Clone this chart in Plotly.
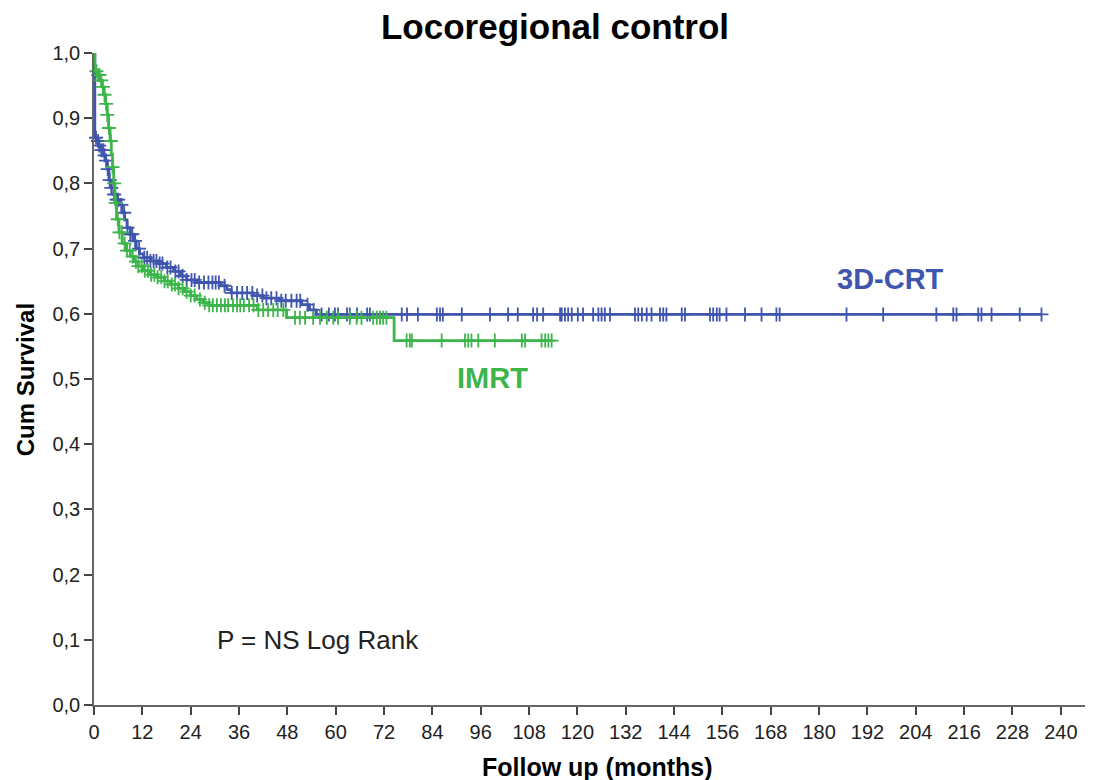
import numpy as np
import plotly.graph_objects as go

# ---------------- data ----------------
# 3D-CRT Kaplan-Meier step vertices (months, cumulative survival)
crt_time = [0, 0.2, 0.6, 1.2, 1.8, 2.4, 2.9, 3.3, 3.7, 4.3, 4.9, 5.6, 6.4, 7.0, 7.6, 8.2,
            9.0, 9.8, 10.5, 11.3, 12.3, 14.0, 16.0, 18.0, 19.8, 21.5, 23.0, 25.5, 31.5,
            33.0, 34.0, 39.5, 42.0, 46.0, 51.5, 53.5, 55.2, 235.2]
crt_surv = [1.0, 0.870, 0.865, 0.858, 0.851, 0.843, 0.835, 0.822, 0.805, 0.793, 0.783,
            0.775, 0.767, 0.755, 0.744, 0.732, 0.722, 0.712, 0.700, 0.692, 0.686, 0.681,
            0.677, 0.671, 0.665, 0.658, 0.652, 0.648, 0.643, 0.637, 0.632, 0.628, 0.624,
            0.620, 0.614, 0.606, 0.599, 0.599]
crt_censored = [0.5, 1.0, 1.3, 1.8, 2.3, 2.6, 3.0, 3.4, 3.9, 4.3, 5.0, 5.6, 6.0, 6.8, 7.5,
                8.3, 9.0, 9.5, 10.2, 11.2, 12.5, 13.2, 14.0, 14.8, 15.5, 16.3, 17.0, 18.2,
                19.0, 20.2, 21.0, 22.0, 23.0, 24.2, 25.0, 26.1, 27.3, 28.4, 29.4, 30.2,
                31.0, 32.4, 34.2, 35.5, 36.8, 38.0, 39.3, 40.5, 41.8, 42.8, 44.0, 45.3,
                46.5, 47.6, 49.0, 50.3, 51.2, 53.0, 54.5, 56.5, 58.3,
                59.8, 60.6, 62.8, 63.5, 65.3, 67.8, 68.5, 76.4, 77.7, 80.4, 85.1, 85.9,
                86.6, 91.3, 98.3, 102.8, 105.2, 109.0, 110.0, 111.5, 115.7, 116.1, 116.9,
                117.7, 118.6, 120.1, 121.4, 123.9, 125.2, 126.0, 126.8, 128.1, 134.3,
                135.1, 136.0, 137.2, 138.4, 140.5, 141.3, 142.1, 145.9, 146.7, 152.9,
                153.7, 154.6, 155.3, 157.0, 161.6, 165.7, 169.4, 170.2, 186.8, 195.9,
                209.1, 213.3, 214.1, 219.5, 220.3, 222.8, 229.8, 235.2]

# IMRT Kaplan-Meier step vertices
imrt_time = [0, 0.2, 0.8, 1.5, 2.0, 2.5, 2.9, 3.3, 3.6, 4.0, 4.3, 4.6, 4.9, 5.2, 5.6, 6.2,
             7.0, 8.0, 9.0, 10.0, 11.0, 12.2, 14.0, 15.8, 17.5, 19.0, 21.0, 22.5, 24.0,
             25.5, 27.0, 28.5, 40.5, 47.8, 74.5, 113.6]
imrt_surv = [1.0, 0.972, 0.966, 0.958, 0.948, 0.936, 0.922, 0.905, 0.885, 0.865, 0.845,
             0.825, 0.800, 0.770, 0.745, 0.725, 0.708, 0.697, 0.688, 0.680, 0.673, 0.666,
             0.660, 0.656, 0.650, 0.645, 0.639, 0.634, 0.628, 0.622, 0.617, 0.613, 0.606,
             0.594, 0.559, 0.559]
imrt_censored = [0.6, 1.0, 1.4, 1.8, 2.2, 2.6, 3.0, 3.3, 3.7, 4.2, 4.6, 5.0, 5.4, 5.9, 6.3,
                 6.9, 7.6, 8.2, 8.9, 9.6, 10.4, 11.0, 11.8, 12.6, 13.4, 14.2, 15.0, 15.8,
                 16.7, 17.5, 18.3, 19.3, 20.1, 21.0, 22.0, 23.0, 24.0, 25.0, 26.3, 27.5,
                 28.6, 29.5, 30.5, 31.5, 32.5, 33.3, 34.5, 35.5, 36.3, 37.2, 38.5, 39.6,
                 40.8, 42.0, 43.2, 44.5, 45.6, 47.0, 49.9, 51.1, 52.4, 54.4, 56.1, 57.8,
                 59.4, 60.6, 63.5, 65.2, 66.4, 69.3, 70.2, 71.0, 71.8, 72.6, 77.6, 78.4,
                 78.9, 86.3, 92.1, 92.9, 93.7, 95.4, 99.5, 106.2, 107.0, 111.1, 112.0,
                 112.8, 113.6]

x_ticks = list(range(0, 241, 12))
y_ticks = [0.0, 0.1, 0.2, 0.3, 0.4, 0.5, 0.6, 0.7, 0.8, 0.9, 1.0]
y_tick_labels = ["0,0", "0,1", "0,2", "0,3", "0,4", "0,5", "0,6", "0,7", "0,8", "0,9", "1,0"]

BLUE = "#3F55AE"
GREEN = "#3DB54A"
FONT = "Liberation Sans, Arial, sans-serif"


def km_value(times, survs, t):
    t_arr = np.asarray(times)
    s_arr = np.asarray(survs)
    idx = np.searchsorted(t_arr, np.asarray(t), side="right") - 1
    return s_arr[np.clip(idx, 0, len(s_arr) - 1)]


fig = go.Figure()

for name, tt, ss, cens, col in [
    ("3D-CRT", crt_time, crt_surv, crt_censored, BLUE),
    ("IMRT", imrt_time, imrt_surv, imrt_censored, GREEN),
]:
    fig.add_trace(go.Scatter(x=tt, y=ss, mode="lines", line=dict(color=col, width=2.8, shape="hv"),
                             name=name, showlegend=False, cliponaxis=False, hoverinfo="skip"))
    fig.add_trace(go.Scatter(x=cens, y=km_value(tt, ss, cens), mode="markers",
                             marker=dict(symbol="cross-thin", size=10, line=dict(color=col, width=1.8)),
                             showlegend=False, cliponaxis=False, hoverinfo="skip"))

# page has an 8px body margin; figure sized so the plot area lands where the reference has it
W, H = 1086, 772
fig.update_layout(
    width=W, height=H,
    margin=dict(l=86, r=9, t=45, b=75),
    paper_bgcolor="white", plot_bgcolor="white",
    font=dict(family=FONT, color="#1a1a1a"),
    title=dict(text="<b>Locoregional control</b>", x=(555 - 8) / W, xref="container",
               xanchor="center", y=1 - (27 - 8) / H, yref="container", yanchor="middle",
               font=dict(family=FONT, size=35, color="black")),
    xaxis=dict(range=[0, 246], tickvals=x_ticks, ticks="outside", ticklen=8, tickwidth=1.6,
               tickcolor="#444", showline=True, linecolor="#666", linewidth=1.6,
               showgrid=False, zeroline=False, tickfont=dict(size=20, color="#222")),
    yaxis=dict(range=[0, 1.0], tickvals=y_ticks, ticktext=y_tick_labels, ticks="outside",
               ticklen=8, tickwidth=1.6, tickcolor="#444", showline=True, linecolor="#666",
               linewidth=1.6, showgrid=False, zeroline=False, tickfont=dict(size=20, color="#222")),
    annotations=[
        dict(text="<b>Follow up (months)</b>", xref="paper", yref="paper", x=0.5076, y=-0.095,
             xanchor="center", yanchor="middle", showarrow=False,
             font=dict(family=FONT, size=25, color="black")),
        dict(text="<b>Cum Survival</b>", xref="paper", yref="paper", x=-0.0696, y=0.498,
             xanchor="center", yanchor="middle", textangle=-90, showarrow=False,
             font=dict(family=FONT, size=24, color="black")),
        dict(text="<b>3D-CRT</b>", xref="x", yref="y", x=197.6, y=0.653, xanchor="center",
             yanchor="middle", showarrow=False, font=dict(family=FONT, size=29, color=BLUE)),
        dict(text="<b>IMRT</b>", xref="x", yref="y", x=99.0, y=0.502, xanchor="center",
             yanchor="middle", showarrow=False, font=dict(family=FONT, size=29, color=GREEN)),
        dict(text="P = NS Log Rank", xref="x", yref="y", x=55.6, y=0.0997, xanchor="center",
             yanchor="middle", showarrow=False, font=dict(family=FONT, size=26, color="#222")),
    ],
)

fig.write_html("out.html")
